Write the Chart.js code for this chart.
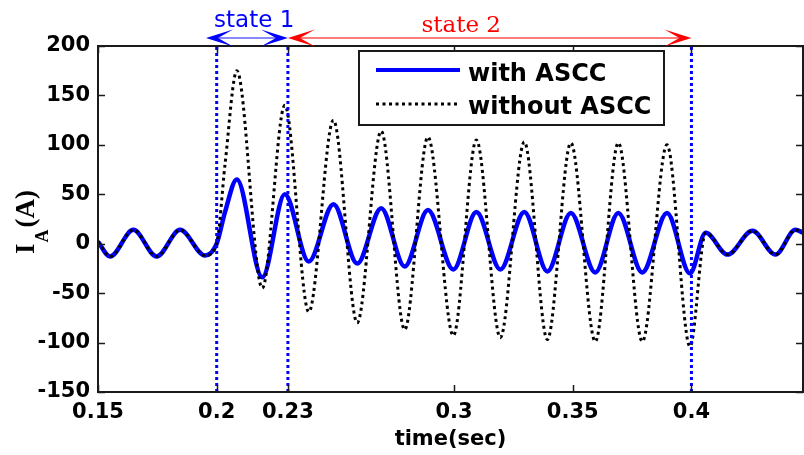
<!DOCTYPE html>
<html>
<head>
<meta charset="utf-8">
<script src="https://cdn.jsdelivr.net/npm/chart.js@4.4.0/dist/chart.umd.min.js"></script>
<style>
  html, body { margin: 0; padding: 0; background: #fff; overflow: hidden; }
  #wrap { width: 804px; height: 455px; }
</style>
</head>
<body>
<div id="wrap"><canvas id="chart" width="804" height="455"></canvas></div>
<script>
// peaks / troughs (plus the fault onset at 0.2 s)
const timeSec = [0.150, 0.1551, 0.1649, 0.1747, 0.1846, 0.1951, 0.2000, 0.2035, 0.2085,
  0.2192, 0.2287, 0.2388, 0.2492, 0.2592, 0.2693, 0.2792, 0.2890, 0.2997, 0.3094,
  0.3195, 0.3296, 0.3393, 0.3492, 0.3595, 0.3692, 0.3793, 0.3897, 0.3994, 0.4060,
  0.4152, 0.4257, 0.4354, 0.4438, 0.4472];
const withAscc = [2, -13, 14, -13, 14, -12, 0, 32, 65,
  -34, 50, -18, 40, -20, 36, -23, 34, -26, 32,
  -26, 32, -28, 31, -29, 31, -29, 31, -30, 11,
  -11, 13, -11, 14, 11];
const withoutAscc = [2, -13, 14, -13, 14, -12, 0, 80, 175,
  -45, 140, -69, 125, -80, 114, -87, 108, -93, 105,
  -95, 103, -97, 102, -99, 102, -99, 100, -104, 11,
  -11, 13, -11, 14, 11];

const xTicks = [0.15, 0.2, 0.23, 0.3, 0.35, 0.4];
const xTickLabels = ["0.15", "0.2", "0.23", "0.3", "0.35", "0.4"];
const yTicks = [-150, -100, -50, 0, 50, 100, 150, 200];
const markerTimes = [0.2, 0.23, 0.4];
const seriesNames = ["with ASCC", "without ASCC"];
const stateNames = ["state 1", "state 2"];
const stateFrom = [0.1955, 0.23];
const stateTo = [0.23, 0.4];
const stateTextAt = [0.2158, 0.303];

const pts = (ys) => timeSec.map((t, i) => ({ x: t, y: ys[i] }));

function arrowHead(ctx, tipX, y, dir, color) {
  const len = 27, half = 8.5, notch = 12;
  ctx.beginPath();
  ctx.moveTo(tipX, y);
  ctx.lineTo(tipX - dir * len, y - half);
  ctx.lineTo(tipX - dir * notch, y);
  ctx.lineTo(tipX - dir * len, y + half);
  ctx.closePath();
  ctx.fillStyle = color;
  ctx.fill();
}

const decorations = {
  id: "decorations",
  afterDatasetsDraw(chart) {
    const { ctx, chartArea: a, scales: { x, y } } = chart;
    ctx.save();
    ctx.strokeStyle = "#1a1a1a";
    ctx.lineWidth = 2;
    ctx.strokeRect(a.left, a.top, a.right - a.left, a.bottom - a.top);
    // MATLAB style inward ticks
    ctx.lineWidth = 1.5;
    ctx.beginPath();
    xTicks.forEach((v) => {
      const px = Math.round(x.getPixelForValue(v)) + 0.5;
      ctx.moveTo(px, a.bottom); ctx.lineTo(px, a.bottom - 7);
      ctx.moveTo(px, a.top); ctx.lineTo(px, a.top + 7);
    });
    yTicks.forEach((v) => {
      const py = Math.round(y.getPixelForValue(v)) + 0.5;
      ctx.moveTo(a.left, py); ctx.lineTo(a.left + 7, py);
      ctx.moveTo(a.right, py); ctx.lineTo(a.right - 7, py);
    });
    ctx.stroke();
    ctx.restore();
  },
  afterDraw(chart) {
    const { ctx, chartArea: a, scales: { x } } = chart;
    ctx.save();

    // legend box
    const lx = 359, ly = 51, lw = 305, lh = 74;
    ctx.fillStyle = "#fff";
    ctx.fillRect(lx, ly, lw, lh);
    ctx.strokeStyle = "#1a1a1a";
    ctx.lineWidth = 2;
    ctx.strokeRect(lx, ly, lw, lh);
    ctx.strokeStyle = "#0000ff";
    ctx.lineWidth = 4;
    ctx.beginPath(); ctx.moveTo(376, 70); ctx.lineTo(460, 70); ctx.stroke();
    ctx.strokeStyle = "#000";
    ctx.lineWidth = 3;
    ctx.setLineDash([3, 3.5]);
    ctx.beginPath(); ctx.moveTo(376, 104); ctx.lineTo(460, 104); ctx.stroke();
    ctx.setLineDash([]);
    ctx.fillStyle = "#000";
    ctx.font = "bold 24px 'DejaVu Sans'";
    ctx.textBaseline = "alphabetic";
    ctx.fillText(seriesNames[0], 468, 81);
    ctx.fillText(seriesNames[1], 468, 114);

    // state arrows above the axes
    const ay = a.top - 8;
    const colors = [
      { head: "#0000ff", shaft: "#8888ff", font: "23px 'DejaVu Sans'", base: 27 },
      { head: "#ff0000", shaft: "#ff7a7a", font: "23px 'DejaVu Serif'", base: 32 }
    ];
    stateNames.forEach((name, i) => {
      const x0 = x.getPixelForValue(stateFrom[i]);
      const x1 = x.getPixelForValue(stateTo[i]);
      const c = colors[i];
      ctx.strokeStyle = c.shaft;
      ctx.lineWidth = 2;
      ctx.beginPath(); ctx.moveTo(x0 + 12, ay); ctx.lineTo(x1 - 12, ay); ctx.stroke();
      arrowHead(ctx, x0, ay, -1, c.head);
      arrowHead(ctx, x1, ay, 1, c.head);
      ctx.fillStyle = c.head;
      ctx.font = c.font;
      ctx.textAlign = "center";
      ctx.fillText(name, x.getPixelForValue(stateTextAt[i]), c.base);
    });

    // y axis title I_A(A)
    ctx.textAlign = "left";
    ctx.fillStyle = "#000";
    ctx.translate(34, 254);
    ctx.rotate(-Math.PI / 2);
    ctx.font = "bold 27px 'Liberation Serif'";
    ctx.fillText("I", 0, 0);
    let w = ctx.measureText("I").width + 1;
    ctx.font = "bold 18px 'Liberation Serif'";
    ctx.fillText("A", w, 14);
    w += ctx.measureText("A").width + 2;
    ctx.font = "bold 27px 'Liberation Serif'";
    ctx.fillText("(A)", w, 0);
    ctx.restore();
  }
};

const tickFont = { family: "'DejaVu Sans'", weight: "bold", size: 21 };

const markerSets = markerTimes.map((t) => ({
  data: [{ x: t, y: -150 }, { x: t, y: 200 }],
  borderColor: "#0000ff",
  borderWidth: 3,
  borderDash: [3, 3],
  pointRadius: 0,
  order: 0
}));

new Chart(document.getElementById("chart"), {
  type: "line",
  data: {
    datasets: [
      {
        label: seriesNames[0],
        data: pts(withAscc),
        borderColor: "#0000ff",
        borderWidth: 4.5,
        cubicInterpolationMode: "monotone",
        pointRadius: 0,
        order: 2
      },
      {
        label: seriesNames[1],
        data: pts(withoutAscc),
        borderColor: "#000",
        borderWidth: 3,
        borderDash: [3, 3.5],
        cubicInterpolationMode: "monotone",
        pointRadius: 0,
        order: 1
      },
      ...markerSets
    ]
  },
  options: {
    responsive: false,
    animation: false,
    devicePixelRatio: 1,
    layout: { padding: { top: 46, right: 1, left: 0, bottom: 0 } },
    plugins: { legend: { display: false }, tooltip: { enabled: false } },
    scales: {
      x: {
        type: "linear",
        min: 0.15,
        max: 0.447,
        afterBuildTicks: (s) => { s.ticks = xTicks.map((v) => ({ value: v })); },
        afterFit: (s) => { s.height = 63; },
        grid: { display: false, drawTicks: false },
        border: { display: false },
        ticks: {
          autoSkip: false,
          maxRotation: 0,
          padding: 8,
          color: "#000",
          font: tickFont,
          callback: (v, i) => xTickLabels[i]
        },
        title: {
          display: true,
          text: "time(sec)",
          color: "#000",
          font: tickFont,
          padding: { top: 0, bottom: 3 }
        }
      },
      y: {
        min: -150,
        max: 200,
        afterFit: (s) => { s.width = 98; },
        grid: { display: false, drawTicks: false },
        border: { display: false },
        ticks: {
          stepSize: 50,
          padding: 8,
          color: "#000",
          font: tickFont,
          callback: (v) => String(v)
        }
      }
    }
  },
  plugins: [decorations]
});
</script>
</body>
</html>
